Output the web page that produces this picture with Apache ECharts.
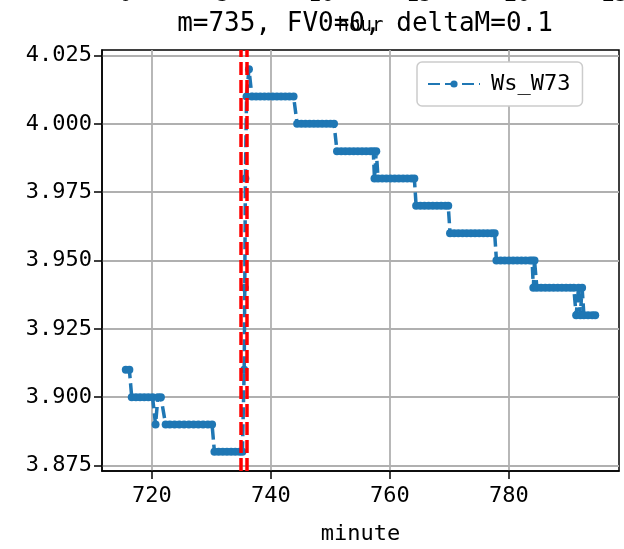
<!DOCTYPE html>
<html>
<head>
<meta charset="utf-8">
<script src="https://cdn.jsdelivr.net/npm/echarts@6/dist/echarts.min.js"></script>
<style>
html, body { margin: 0; padding: 0; background: #fff; }
#chart { width: 624px; height: 549px; }
</style>
</head>
<body>
<div id="chart"></div>
<script>
// minute of the day and the Ws_W73 value
const minutes = [
  715.6, 716.2,
  716.6, 717.3, 718.0, 718.7, 719.4, 720.1,
  720.6,
  721.0, 721.5,
  722.3, 723.0, 723.8, 724.6, 725.4, 726.2, 727.0, 727.8, 728.6, 729.4, 730.1,
  730.5, 731.2, 731.9, 732.6, 733.3, 734.0, 734.7, 735.2,
  735.5, 735.6, 735.7, 735.9, 736.3,
  736.8, 737.5, 738.2, 738.9, 739.6, 740.3, 741.0, 741.7, 742.4, 743.1, 743.8,
  744.4, 745.1, 745.8, 746.5, 747.2, 747.9, 748.6, 749.3, 750.0, 750.6,
  751.1, 751.8, 752.5, 753.2, 753.9, 754.6, 755.3, 756.0, 756.7, 757.2,
  757.4, 757.7,
  758.0, 758.7, 759.4, 760.1, 760.8, 761.5, 762.2, 762.9, 763.6, 764.1,
  764.4, 765.1, 765.8, 766.5, 767.2, 767.9, 768.6, 769.3, 769.8,
  770.1, 770.8, 771.5, 772.2, 772.9, 773.6, 774.3, 775.0, 775.7, 776.4, 777.1, 777.6,
  777.9, 778.6, 779.3, 780.0, 780.7, 781.4, 782.1, 782.8, 783.5, 783.9,
  784.1, 784.3,
  784.7, 785.4, 786.1, 786.8, 787.5, 788.2, 788.9, 789.6, 790.3, 790.9,
  791.3, 791.7, 792.0, 792.3,
  792.6, 793.3, 794.0, 794.5
]
const ws = [
  3.91, 3.91,
  3.90, 3.90, 3.90, 3.90, 3.90, 3.90,
  3.89,
  3.90, 3.90,
  3.89, 3.89, 3.89, 3.89, 3.89, 3.89, 3.89, 3.89, 3.89, 3.89, 3.89,
  3.88, 3.88, 3.88, 3.88, 3.88, 3.88, 3.88, 3.88,
  3.91, 3.94, 3.98, 4.01, 4.02,
  4.01, 4.01, 4.01, 4.01, 4.01, 4.01, 4.01, 4.01, 4.01, 4.01, 4.01,
  4.00, 4.00, 4.00, 4.00, 4.00, 4.00, 4.00, 4.00, 4.00, 4.00,
  3.99, 3.99, 3.99, 3.99, 3.99, 3.99, 3.99, 3.99, 3.99, 3.99,
  3.98, 3.99,
  3.98, 3.98, 3.98, 3.98, 3.98, 3.98, 3.98, 3.98, 3.98, 3.98,
  3.97, 3.97, 3.97, 3.97, 3.97, 3.97, 3.97, 3.97, 3.97,
  3.96, 3.96, 3.96, 3.96, 3.96, 3.96, 3.96, 3.96, 3.96, 3.96, 3.96, 3.96,
  3.95, 3.95, 3.95, 3.95, 3.95, 3.95, 3.95, 3.95, 3.95, 3.95,
  3.94, 3.95,
  3.94, 3.94, 3.94, 3.94, 3.94, 3.94, 3.94, 3.94, 3.94, 3.94,
  3.93, 3.94, 3.93, 3.94,
  3.93, 3.93, 3.93, 3.93
]
const markMinutes = [735, 736]
const minuteTicks = [720, 740, 760, 780]
const valueTicks = [3.875, 3.900, 3.925, 3.950, 3.975, 4.000, 4.025]
const hourTicks = [0, 5, 10, 15, 20, 25]

const font = '"DejaVu Sans Mono", monospace'
const gridColor = '#b0b0b0'

let option = {
  animation: false,
  title: {
    text: 'm=735, FV0=0, deltaM=0.1',
    left: 360,
    textAlign: 'center',
    top: 6,
    textStyle: { fontFamily: font, fontSize: 26, fontWeight: 'normal', color: '#000' }
  },
  legend: {
    data: ['Ws_W73'],
    left: 417,
    top: 62,
    padding: [11, 12, 11, 10],
    itemWidth: 52,
    itemHeight: 9,
    itemGap: 10,
    backgroundColor: '#fff',
    borderColor: '#cccccc',
    borderWidth: 1.5,
    borderRadius: 5,
    textStyle: { fontFamily: font, fontSize: 22, color: '#000', padding: [0, 0, 0, 6] }
  },
  grid: {
    left: 102,
    top: 50,
    width: 517,
    height: 421,
    containLabel: false,
    outerBoundsMode: 'none',
    show: true,
    borderColor: '#000',
    borderWidth: 1.5,
    backgroundColor: '#fff'
  },
  xAxis: [{
    type: 'value',
    position: 'bottom',
    min: 711.6,
    max: 798.5,
    name: 'minute',
    nameLocation: 'middle',
    nameGap: 52,
    nameMoveOverlap: false,
    nameTextStyle: { fontFamily: font, fontSize: 22, color: '#000' },
    axisLine: { show: true, onZero: false, lineStyle: { color: '#000', width: 1.5 } },
    axisTick: { show: true, customValues: minuteTicks, length: 8, lineStyle: { color: '#000', width: 1.5 } },
    axisLabel: { customValues: minuteTicks, margin: 14, fontFamily: font, fontSize: 22, color: '#000' },
    splitLine: { show: true, lineStyle: { color: gridColor, width: 1.8 } }
  }, {
    type: 'value',
    position: 'top',
    min: -1.2,
    max: 25.2,
    name: 'hour',
    nameLocation: 'middle',
    nameGap: 14,
    nameMoveOverlap: false,
    nameTextStyle: { fontFamily: font, fontSize: 19, color: '#000' },
    axisLine: { show: false },
    axisTick: { show: false, customValues: hourTicks },
    axisLabel: { customValues: hourTicks, margin: 44, fontFamily: font, fontSize: 22, color: '#000' },
    splitLine: { show: false }
  }],
  yAxis: {
    type: 'value',
    min: 3.873,
    max: 4.027,
    axisLine: { show: true, onZero: false, lineStyle: { color: '#000', width: 1.5 } },
    axisTick: { show: true, customValues: valueTicks, length: 8, lineStyle: { color: '#000', width: 1.5 } },
    axisLabel: {
      customValues: valueTicks,
      margin: 10,
      fontFamily: font,
      fontSize: 22,
      color: '#000',
      formatter: function (v) { return v.toFixed(3) }
    },
    splitLine: { show: true, lineStyle: { color: gridColor, width: 1.8 } }
  },
  series: [{
    name: 'markers',
    type: 'line',
    data: [],
    z: 1,
    markLine: {
      silent: true,
      symbol: ['none', 'none'],
      label: { show: false },
      lineStyle: { color: '#ff0000', width: 3.5, type: [13, 5] },
      data: markMinutes.map(m => ({ xAxis: m }))
    }
  }, {
    name: 'Ws_W73',
    type: 'line',
    z: 3,
    data: minutes.map((m, i) => [m, ws[i]]),
    symbol: 'circle',
    symbolSize: 8,
    showAllSymbol: true,
    color: '#1f77b4',
    itemStyle: { color: '#1f77b4' },
    lineStyle: { color: '#1f77b4', width: 3.5, type: [12, 5] }
  }]
}

let chart = echarts.init(document.getElementById('chart'))
chart.setOption(option)
</script>
</body>
</html>
